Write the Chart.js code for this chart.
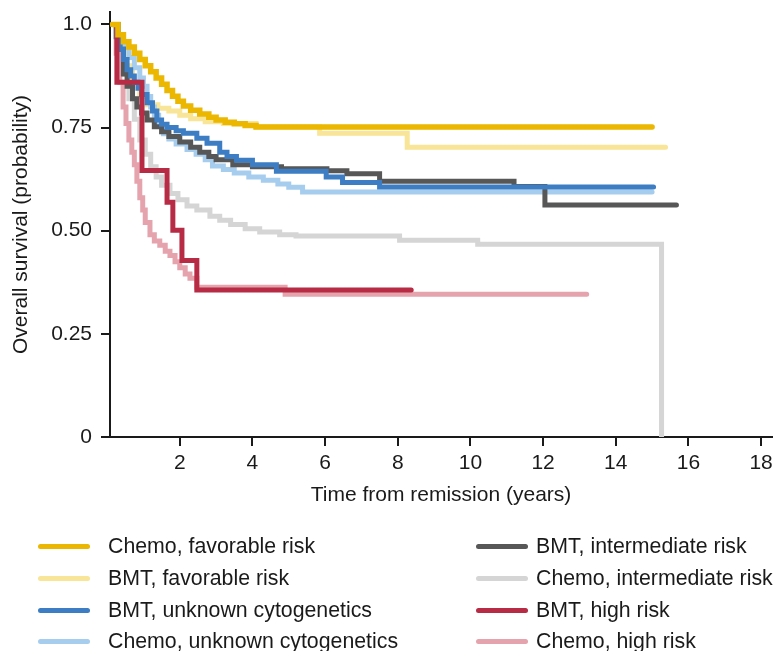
<!DOCTYPE html>
<html>
<head>
<meta charset="utf-8">
<script src="https://cdn.jsdelivr.net/npm/chart.js@4.4.1/dist/chart.umd.min.js"></script>
<style>
  html, body { margin: 0; padding: 0; background: #fff; }
  #wrap { position: relative; width: 782px; height: 651px; font-family: "Liberation Sans", Arial, sans-serif; }
  #c { position: absolute; left: 0; top: 0; }
  .lg { position: absolute; font-size: 21.3px; line-height: 24px; color: #1a1a1a; white-space: nowrap; }
  .lg .sw { position: absolute; width: 52px; height: 5px; border-radius: 2.5px; }
</style>
</head>
<body>
<div id="wrap">
  <canvas id="c" width="782" height="651"></canvas>
  <div id="legend"></div>
</div>
<script>
// Kaplan-Meier estimates: event times (years) and survival probability after each step
const chemoFavT = [0.15, 0.3, 0.45, 0.6, 0.75, 0.9, 1.05, 1.2, 1.35, 1.5, 1.65, 1.8, 1.95, 2.1, 2.3, 2.55, 2.8, 3.0, 3.25, 3.5, 3.8, 4.1, 15.0];
const chemoFavS = [1.0, 0.975, 0.958, 0.945, 0.93, 0.915, 0.9, 0.885, 0.87, 0.855, 0.84, 0.826, 0.814, 0.802, 0.792, 0.783, 0.775, 0.768, 0.763, 0.759, 0.755, 0.751, 0.751];

const bmtFavT = [0.15, 0.3, 0.5, 0.7, 0.9, 1.1, 1.4, 1.7, 2.0, 2.3, 2.7, 3.2, 4.1, 5.85, 8.26, 15.37];
const bmtFavS = [1.0, 0.95, 0.9, 0.86, 0.825, 0.805, 0.797, 0.79, 0.78, 0.771, 0.764, 0.76, 0.752, 0.736, 0.702, 0.702];

const bmtUnkT = [0.15, 0.25, 0.36, 0.45, 0.55, 0.65, 0.75, 0.85, 0.95, 1.1, 1.25, 1.37, 1.5, 1.65, 1.9, 2.1, 2.47, 2.75, 3.1, 3.3, 3.56, 4.0, 4.66, 6.03, 6.48, 7.5, 15.04];
const bmtUnkS = [1.0, 0.97, 0.94, 0.915, 0.89, 0.875, 0.86, 0.845, 0.83, 0.81, 0.79, 0.768, 0.758, 0.75, 0.742, 0.736, 0.724, 0.712, 0.69, 0.68, 0.671, 0.66, 0.644, 0.63, 0.617, 0.606, 0.606];

const chemoUnkT = [0.15, 0.3, 0.45, 0.6, 0.75, 0.9, 1.0, 1.1, 1.2, 1.3, 1.42, 1.55, 1.7, 1.9, 2.2, 2.45, 2.7, 2.9, 3.2, 3.5, 3.9, 4.3, 4.7, 5.0, 5.38, 15.0];
const chemoUnkS = [1.0, 0.97, 0.945, 0.92, 0.895, 0.87, 0.85, 0.825, 0.8, 0.78, 0.755, 0.735, 0.722, 0.71, 0.697, 0.685, 0.672, 0.657, 0.648, 0.64, 0.63, 0.622, 0.613, 0.605, 0.594, 0.594];

const bmtIntT = [0.15, 0.3, 0.45, 0.55, 0.7, 0.82, 0.95, 1.1, 1.3, 1.5, 1.7, 2.0, 2.3, 2.55, 2.8, 3.0, 3.46, 4.0, 4.8, 6.05, 6.6, 7.5, 11.2, 12.05, 15.67];
const bmtIntS = [1.0, 0.94, 0.88, 0.85, 0.82, 0.8, 0.785, 0.768, 0.752, 0.74, 0.728, 0.715, 0.702, 0.69, 0.68, 0.672, 0.66, 0.655, 0.65, 0.645, 0.638, 0.62, 0.607, 0.562, 0.562];

const chemoIntT = [0.15, 0.3, 0.45, 0.6, 0.75, 0.9, 1.05, 1.2, 1.35, 1.5, 1.73, 1.95, 2.2, 2.47, 2.83, 3.1, 3.4, 3.8, 4.2, 4.75, 5.2, 8.05, 10.2, 15.26, 15.26];
const chemoIntS = [1.0, 0.94, 0.88, 0.82, 0.77, 0.72, 0.685, 0.655, 0.63, 0.61, 0.59, 0.575, 0.56, 0.55, 0.535, 0.525, 0.515, 0.505, 0.497, 0.49, 0.487, 0.477, 0.467, 0.465, 0.0];

const bmtHighT = [0.15, 0.27, 0.96, 1.65, 1.81, 2.06, 2.47, 8.37];
const bmtHighS = [1.0, 0.86, 0.646, 0.569, 0.501, 0.428, 0.356, 0.356];

const chemoHighT = [0.15, 0.25, 0.35, 0.44, 0.52, 0.6, 0.68, 0.75, 0.82, 0.9, 0.98, 1.05, 1.18, 1.3, 1.45, 1.6, 1.73, 1.87, 2.0, 2.15, 2.28, 2.47, 4.9, 13.2];
const chemoHighS = [1.0, 0.93, 0.86, 0.8, 0.76, 0.72, 0.69, 0.66, 0.62, 0.58, 0.55, 0.52, 0.49, 0.475, 0.465, 0.45, 0.44, 0.425, 0.41, 0.395, 0.385, 0.363, 0.346, 0.346];

// Axis ticks
const xTicks = [2, 4, 6, 8, 10, 12, 14, 16, 18];
const yTicks = [0, 0.25, 0.5, 0.75, 1.0];
const yTickLabels = ['0', '0.25', '0.50', '0.75', '1.0'];

const FONT = '"Liberation Sans", Arial, sans-serif';
const INK = '#1a1a1a';

// name, times, survival, colour, line width; listed top-most first
const series = [
  { name: 'Chemo, favorable risk',        t: chemoFavT,  s: chemoFavS,  color: '#EBB700', w: 5.5 },
  { name: 'BMT, high risk',               t: bmtHighT,   s: bmtHighS,   color: '#B72B45', w: 5 },
  { name: 'BMT, unknown cytogenetics',    t: bmtUnkT,    s: bmtUnkS,    color: '#3C7DC3', w: 5 },
  { name: 'BMT, intermediate risk',       t: bmtIntT,    s: bmtIntS,    color: '#575757', w: 5 },
  { name: 'Chemo, unknown cytogenetics',  t: chemoUnkT,  s: chemoUnkS,  color: '#A7CDEE', w: 5 },
  { name: 'BMT, favorable risk',          t: bmtFavT,    s: bmtFavS,    color: '#F8E597', w: 5 },
  { name: 'Chemo, high risk',             t: chemoHighT, s: chemoHighS, color: '#E5A3AD', w: 5 },
  { name: 'Chemo, intermediate risk',     t: chemoIntT,  s: chemoIntS,  color: '#D5D5D5', w: 5 }
];

// Legend arrangement: two columns of four
const legendOrder = [
  ['Chemo, favorable risk', 'BMT, favorable risk', 'BMT, unknown cytogenetics', 'Chemo, unknown cytogenetics'],
  ['BMT, intermediate risk', 'Chemo, intermediate risk', 'BMT, high risk', 'Chemo, high risk']
];

const datasets = series.map(d => ({
  label: d.name,
  data: d.t.map((t, i) => ({ x: t, y: d.s[i] })),
  borderColor: d.color,
  backgroundColor: d.color,
  borderWidth: d.w,
  stepped: true,
  fill: false,
  pointRadius: 0,
  borderCapStyle: 'round',
  borderJoinStyle: 'miter'
}));

Chart.defaults.font.family = FONT;
Chart.defaults.color = INK;

new Chart(document.getElementById('c'), {
  type: 'line',
  data: { datasets },
  options: {
    responsive: false,
    animation: false,
    layout: { padding: { left: 0, right: 10, top: 12, bottom: 139 } },
    plugins: { legend: { display: false }, tooltip: { enabled: false } },
    scales: {
      x: {
        type: 'linear',
        min: 0.08,
        max: 18.3,
        afterBuildTicks: s => { s.ticks = xTicks.map(v => ({ value: v })); },
        afterFit: s => { s.height = 75; s.paddingLeft = 0; s.paddingRight = 0; },
        grid: { drawOnChartArea: false, drawTicks: true, tickLength: 9, color: INK, lineWidth: 2 },
        border: { display: true, color: INK, width: 2 },
        ticks: { font: { size: 21 }, color: INK, padding: 5, maxRotation: 0, autoSkip: false },
        title: { display: true, text: 'Time from remission (years)', font: { size: 21 }, color: INK, padding: { top: 0, bottom: 4 } }
      },
      y: {
        type: 'linear',
        min: 0,
        max: 1.03,
        afterBuildTicks: s => { s.ticks = yTicks.map(v => ({ value: v })); },
        afterFit: s => { s.width = 110; s.paddingTop = 0; s.paddingBottom = 0; },
        grid: { drawOnChartArea: false, drawTicks: true, tickLength: 9, color: INK, lineWidth: 2 },
        border: { display: true, color: INK, width: 2 },
        ticks: { font: { size: 21 }, color: INK, padding: 9, autoSkip: false, callback: (v, i) => yTickLabels[i] },
        title: { display: true, text: 'Overall survival (probability)', font: { size: 21 }, color: INK, padding: { top: 9, bottom: 0 } }
      }
    }
  }
});

// HTML legend
const legendEl = document.getElementById('legend');
const colX = [{ sw: 38, tx: 108 }, { sw: 476, tx: 536 }];
const rowY = [546, 578, 610, 641];
legendOrder.forEach((col, ci) => {
  col.forEach((name, ri) => {
    const d = series.find(s => s.name === name);
    const item = document.createElement('div');
    item.className = 'lg';
    item.style.left = colX[ci].tx + 'px';
    item.style.top = (rowY[ri] - 12) + 'px';
    const sw = document.createElement('span');
    sw.className = 'sw';
    sw.style.background = d.color;
    sw.style.left = (colX[ci].sw - colX[ci].tx) + 'px';
    sw.style.top = '9.5px';
    item.appendChild(sw);
    item.appendChild(document.createTextNode(name));
    legendEl.appendChild(item);
  });
});
</script>
</body>
</html>
